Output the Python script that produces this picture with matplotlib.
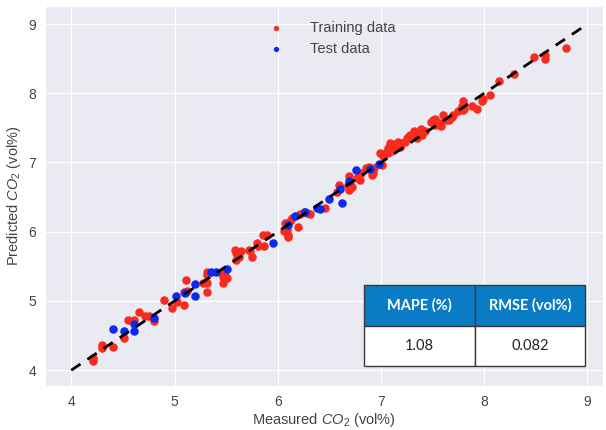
import numpy as np
import matplotlib
matplotlib.use("Agg")
import matplotlib.pyplot as plt
import seaborn as sns

# measured vs predicted CO2 (vol%)
train_meas = [4.21, 4.21, 4.30, 4.30, 4.40, 4.51, 4.55, 4.61, 4.66, 4.71,
              4.75, 4.80, 4.90, 4.98, 5.09, 5.11, 5.09, 5.12, 5.31, 5.31,
              5.31, 5.31, 5.28, 5.46, 5.47, 5.51, 5.47, 5.49, 5.59, 5.60,
              5.62, 5.64, 5.60, 5.72, 5.73, 5.75, 5.80, 5.81, 5.86, 5.90,
              5.87, 6.06, 6.07, 6.09, 6.10, 6.10, 6.12, 6.14, 6.20, 6.22,
              6.25, 6.28, 6.31, 6.46, 6.57, 6.59, 6.60, 6.69, 6.68, 6.72,
              6.70, 6.69, 6.77, 6.80, 6.79, 6.81, 6.85, 6.88, 6.89, 6.91,
              6.93, 6.92, 6.99, 7.01, 7.02, 7.04, 7.07, 7.09, 7.10, 7.09,
              7.07, 7.12, 7.14, 7.16, 7.18, 7.20, 7.25, 7.27, 7.28, 7.32,
              7.35, 7.39, 7.43, 7.40, 7.48, 7.50, 7.52, 7.54, 7.52, 7.56,
              7.58, 7.60, 7.63, 7.66, 7.69, 7.70, 7.75, 7.78, 7.79, 7.80,
              7.88, 7.93, 7.98, 7.99, 8.06, 8.14, 8.29, 8.48, 8.59, 8.59,
              8.79, 5.02, 7.23, 7.35, 7.79]
train_pred = [4.18, 4.13, 4.37, 4.32, 4.33, 4.46, 4.73, 4.73, 4.84, 4.78,
              4.79, 4.71, 5.01, 4.90, 4.94, 5.31, 5.13, 5.14, 5.42, 5.37,
              5.26, 5.13, 5.26, 5.41, 5.34, 5.33, 5.26, 5.38, 5.74, 5.70,
              5.64, 5.72, 5.59, 5.74, 5.72, 5.63, 5.84, 5.80, 5.95, 5.96,
              5.79, 6.01, 6.13, 6.03, 5.96, 5.92, 6.15, 6.20, 6.07, 6.25,
              6.29, 6.27, 6.26, 6.34, 6.58, 6.68, 6.64, 6.81, 6.68, 6.64,
              6.70, 6.60, 6.78, 6.75, 6.82, 6.85, 6.92, 6.94, 6.90, 6.82,
              6.92, 6.85, 7.13, 6.97, 7.09, 7.14, 7.21, 7.28, 7.17, 7.22,
              7.14, 7.18, 7.26, 7.30, 7.23, 7.28, 7.35, 7.38, 7.40, 7.45,
              7.35, 7.48, 7.46, 7.40, 7.59, 7.62, 7.63, 7.59, 7.54, 7.57,
              7.52, 7.69, 7.62, 7.62, 7.65, 7.69, 7.75, 7.82, 7.89, 7.77,
              7.81, 7.77, 7.89, 7.91, 7.98, 8.17, 8.28, 8.53, 8.55, 8.50,
              8.65, 4.98, 7.30, 7.42, 7.76]

test_meas = [4.40, 4.51, 4.61, 4.61, 4.80, 5.01, 5.10, 5.20, 5.20, 5.35,
             5.40, 5.51, 5.95, 6.10, 6.17, 6.26, 6.38, 6.41, 6.50, 6.62,
             6.60, 6.69, 6.76, 6.89, 6.98]
test_pred = [4.59, 4.57, 4.67, 4.57, 4.75, 5.07, 5.11, 5.25, 5.07, 5.42,
             5.42, 5.46, 5.84, 6.10, 6.23, 6.28, 6.34, 6.33, 6.47, 6.41,
             6.62, 6.73, 6.89, 6.90, 6.98]

metric_names = ["MAPE (%)", "RMSE (vol%)"]
metric_values = ["1.08", "0.082"]

sns.set_style("darkgrid")
plt.rcParams["font.family"] = ["Liberation Sans", "DejaVu Sans"]
plt.rcParams["mathtext.fontset"] = "custom"
plt.rcParams["mathtext.it"] = "Liberation Sans:italic"
plt.rcParams["mathtext.rm"] = "Liberation Sans"

fig = plt.figure(figsize=(6.06, 4.30), dpi=100)
ax = fig.add_axes([0.075, 0.102, 0.920, 0.884])

ax.scatter(train_meas, train_pred, s=26, color="#FA2A1C", label="Training data", zorder=3)
ax.scatter(test_meas, test_pred, s=26, color="#0A2AF2", label="Test data", zorder=3)
ax.plot([4, 9], [4, 9], "k--", lw=2, dashes=(4, 3), zorder=4)

ax.set_xlim(3.75, 9.15)
ax.set_ylim(3.77, 9.26)
ax.set_xticks(range(4, 10))
ax.set_yticks(range(4, 10))
ax.tick_params(labelsize=10, labelcolor="#444444", pad=3)
ax.set_xlabel("Measured $CO_2$ (vol%)", fontsize=10.5, color="#444444", labelpad=1)
ax.set_ylabel("Predicted $CO_2$ (vol%)", fontsize=10.5, color="#444444", labelpad=4)

ax.legend(loc="upper center", bbox_to_anchor=(0.508, 0.995), frameon=False,
          fontsize=10.5, markerscale=0.55, handletextpad=1.3, labelspacing=0.45,
          labelcolor="#444444")

# metrics table, bottom right
tbl = ax.table(cellText=[metric_values], colLabels=metric_names,
               cellLoc="center", bbox=[0.572, 0.052, 0.396, 0.213], zorder=5)
tbl.auto_set_font_size(False)
for (r, c), cell in tbl.get_celld().items():
    cell.set_edgecolor("#3a3a3a")
    cell.set_linewidth(1.0)
    txt = cell.get_text()
    txt.set_fontfamily(["Lato", "DejaVu Sans"])
    txt.set_fontsize(10.5)
    if r == 0:
        cell.set_facecolor("#0A7CC6")
        txt.set_color("white")
        txt.set_fontweight("bold")
    else:
        cell.set_facecolor("white")
        txt.set_color("#222222")

fig.savefig("out.png", dpi=100)
